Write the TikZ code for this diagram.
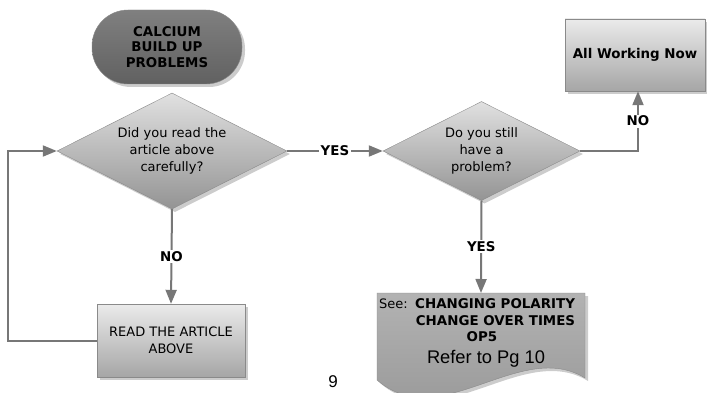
\documentclass[tikz,border=0pt]{standalone}
\usepackage{fontspec}
\setmainfont{DejaVu Sans}
\newfontfamily\pgfont{Liberation Sans}
\usetikzlibrary{shapes.geometric,shadows,arrows.meta}
\definecolor{flowline}{HTML}{777777}
\definecolor{flowedge}{HTML}{8A8A8A}
\begin{document}
\begin{tikzpicture}[x=1pt,y=-1pt,
  shd/.style={drop shadow={shadow xshift=3pt,shadow yshift=-3pt,opacity=0.4}},
  term/.style={rectangle,rounded corners=36pt,draw=flowedge,top color=black!50,bottom color=black!62,shd,minimum width=150pt,minimum height=74pt,align=center,font=\bfseries\fontsize{13.4}{15.5}\selectfont},
  ask/.style={diamond,aspect=2,draw=flowedge,top color=black!12,bottom color=black!42,shd,inner sep=0pt,align=center,font=\fontsize{13}{16.6}\selectfont},
  act/.style={rectangle,draw=flowedge,top color=black!8,bottom color=black!35,shd,align=center,font=\fontsize{13}{17}\selectfont},
  bold/.style={inner sep=0pt,font=\bfseries\fontsize{13.4}{15}\selectfont},
  lbl/.style={fill=white,inner sep=1.5pt,font=\bfseries\fontsize{13.4}{15}\selectfont},
  con/.style={draw=flowline,line width=2pt,-{Triangle[length=14pt,width=11pt]}}]
\useasboundingbox (0,0) rectangle (707,393);
\clip (0,0) rectangle (707,393);
\node[term] (st0) at (167,47) {CALCIUM\\BUILD UP\\PROBLEMS};
\node[ask,minimum width=230pt,minimum height=116pt] (dq1) at (172,151) {Did you read the\\article above\\carefully?};
\node[ask,minimum width=197pt,minimum height=99pt] (dq2) at (481.5,151) {Do you still\\have a\\problem?};
\node[act,minimum width=140pt,minimum height=72pt,font=\bfseries\fontsize{13.4}{15}\selectfont] (bx2) at (635,55) {All Working Now};
\node[act,minimum width=148pt,minimum height=73pt] (bx1) at (171,340.5) {READ THE ARTICLE\\ABOVE};
\path[draw=flowedge,top color=black!30,bottom color=black!42,shd] (377,293) -- (585,293) -- (585,378) .. controls (520,338) and (440,435) .. (377,380) -- cycle;
\node[minimum width=208pt,minimum height=90pt,anchor=north,inner sep=0pt] (dc1) at (481,293) {};
\node[anchor=west,inner sep=0pt,font=\fontsize{13}{15}\selectfont] (dc1a) at (379,304) {See:};
\node[bold,anchor=west] (dc1b) at (415,304) {CHANGING POLARITY};
\node[bold] (dc1c) at (495.5,321) {CHANGE OVER TIMES};
\node[bold] (dc1d) at (482,337) {OP5};
\node[anchor=base,inner sep=0pt,font=\pgfont\fontsize{18.3}{20}\selectfont] (dc1e) at (486,363.5) {Refer to Pg 10};
\node[anchor=base,inner sep=0pt,font=\pgfont\fontsize{17}{19}\selectfont] (pg9) at (333,387) {9};
\draw[con] (dq1.east) -- node[lbl]{YES} (dq2.west);
\draw[con] (dq1.south) -- node[lbl]{NO} (bx1.north);
\draw[con] (dq2.south) -- node[lbl]{YES} (dc1.north);
\draw[con] (dq2.east) -| node[lbl,pos=0.75]{NO} ([xshift=3pt]bx2.south);
\draw[con] (bx1.west) -- ++(-89,0) |- (dq1.west);
\end{tikzpicture}
\end{document}
